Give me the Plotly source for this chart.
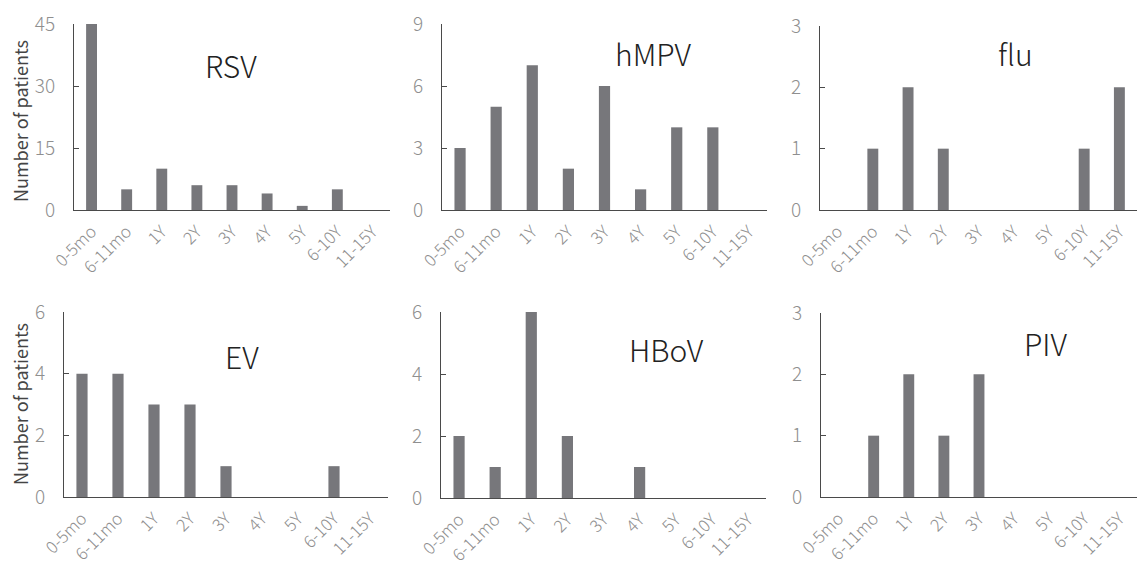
import plotly.graph_objects as go

categories = ["0-5mo", "6-11mo", "1Y", "2Y", "3Y", "4Y", "5Y", "6-10Y", "11-15Y"]

rsv = [45, 5, 10, 6, 6, 4, 1, 5, 0]
hmpv = [3, 5, 7, 2, 6, 1, 4, 4, 0]
flu = [0, 1, 2, 1, 0, 0, 0, 1, 2]
ev = [4, 4, 3, 3, 1, 0, 0, 1, 0]
hbov = [2, 1, 6, 2, 0, 1, 0, 0, 0]
piv = [0, 1, 2, 1, 2, 0, 0, 0, 0]

names = ["RSV", "hMPV", "flu", "EV", "HBoV", "PIV"]
series = [rsv, hmpv, flu, ev, hbov, piv]
ymax = [45, 9, 3, 6, 6, 3]
dticks = [15, 3, 1, 2, 2, 1]

W, H = 1137, 565
# pixel layout of each panel: (x0, x1, ytop, ybottom)
panels = [
    (74, 390, 24, 210),
    (442, 767, 24, 210),
    (820, 1137, 26, 210),
    (64, 388, 312, 497),
    (441, 766, 312, 498),
    (821, 1137, 313, 497),
]
title_pos = [(231, 65), (653, 53), (1015, 53), (242, 356), (666, 349), (1046, 343)]

FONT = "Noto Sans CJK JP"
BAR = "#77777b"
AXIS = "#4a4a4a"
TICK = "#8f8f8f"

fig = go.Figure()
layout = dict(
    width=W, height=H,
    margin=dict(l=0, r=0, t=0, b=0, autoexpand=False),
    paper_bgcolor="white", plot_bgcolor="white",
    showlegend=False,
    bargap=0.69,
    font=dict(family=FONT),
    annotations=[],
)

for i, (nm, vals) in enumerate(zip(names, series)):
    k = "" if i == 0 else str(i + 1)
    fig.add_trace(go.Bar(x=categories, y=vals, marker=dict(color=BAR, line=dict(width=0)),
                         xaxis="x" + k, yaxis="y" + k, name=nm))
    x0, x1, yt, yb = panels[i]
    layout["xaxis" + k] = dict(
        domain=[x0 / W, x1 / W], anchor="y" + k, automargin=False,
        showline=True, linecolor=AXIS, linewidth=1,
        ticks="", showgrid=False, zeroline=False,
        tickangle=-45, tickfont=dict(size=17, color=TICK, weight=300),
        ticklabelstandoff=4,
        categoryorder="array", categoryarray=categories,
    )
    layout["yaxis" + k] = dict(
        domain=[1 - yb / H, 1 - yt / H], anchor="x" + k, automargin=False,
        range=[0, ymax[i]], dtick=dticks[i],
        showline=True, linecolor=AXIS, linewidth=1,
        ticks="inside", ticklen=5, tickcolor=AXIS, tickwidth=1,
        showgrid=False, zeroline=False,
        tickfont=dict(size=19, color=TICK, weight=300),
        ticklabelstandoff=14,
    )
    tx, ty = title_pos[i]
    layout["annotations"].append(dict(
        text=nm, x=tx / W, y=1 - ty / H, xref="paper", yref="paper",
        xanchor="center", yanchor="middle", showarrow=False,
        font=dict(size=30, color="#222222", family=FONT, weight=300),
    ))

for cy in (121, 404):
    layout["annotations"].append(dict(
        text="Number of patients", x=20 / W, y=1 - cy / H, xref="paper", yref="paper",
        xanchor="center", yanchor="middle", showarrow=False, textangle=-90,
        font=dict(size=18, color="#444444", family=FONT),
    ))

fig.update_layout(**layout)
fig.write_html("out.html")
